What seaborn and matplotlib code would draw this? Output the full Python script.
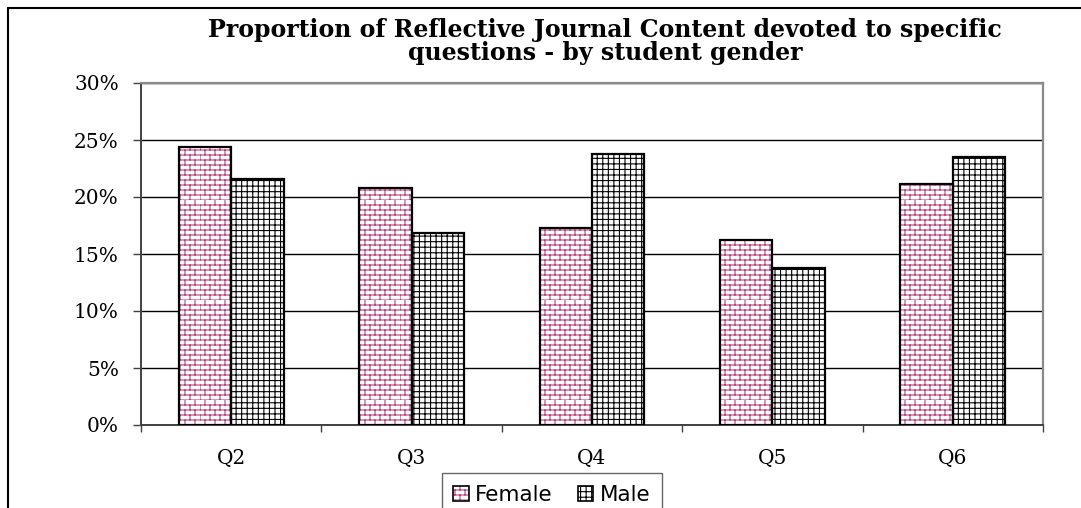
import numpy as np
import pandas as pd
import matplotlib
matplotlib.use("Agg")
import matplotlib.pyplot as plt
import matplotlib.hatch as mhatch
from matplotlib.path import Path
from matplotlib.patches import Rectangle, Patch
from matplotlib.lines import Line2D
from matplotlib.legend_handler import HandlerTuple
from matplotlib.ticker import PercentFormatter, FixedLocator
import seaborn as sns

# ---------------- data ----------------
questions = ["Q2", "Q3", "Q4", "Q5", "Q6"]
female = [0.244, 0.208, 0.173, 0.162, 0.211]
male = [0.216, 0.168, 0.238, 0.138, 0.235]
genders = ["Female", "Male"]
yticks = [0.0, 0.05, 0.10, 0.15, 0.20, 0.25, 0.30]
title = "Proportion of Reflective Journal Content devoted to specific\nquestions - by student gender"

# ---------------- brick hatch (replaces '*') ----------------
class BrickHatch(mhatch.HatchPatternBase):
    def __init__(self, hatch, density):
        self.rows = int(hatch.count('*') * density * 10 // 9)
        self.cols = self.rows // 2
        self.num_vertices = (self.rows + self.rows * self.cols) * 2

    def set_vertices_and_codes(self, vertices, codes):
        if self.rows == 0:
            return
        n = self.rows
        ys = np.arange(n) / n
        vertices[0:2 * n:2, 0] = 0.0
        vertices[0:2 * n:2, 1] = ys
        vertices[1:2 * n:2, 0] = 1.0
        vertices[1:2 * n:2, 1] = ys
        codes[0:2 * n:2] = Path.MOVETO
        codes[1:2 * n:2] = Path.LINETO
        idx = 2 * n
        for k in range(n):
            off = 0.5 * (k % 2)
            for j in range(self.cols):
                x = ((j + off) / self.cols) % 1.0
                vertices[idx] = (x, k / n)
                vertices[idx + 1] = (x, (k + 1) / n)
                codes[idx] = Path.MOVETO
                codes[idx + 1] = Path.LINETO
                idx += 2

mhatch._hatch_types = [t for t in mhatch._hatch_types
                       if t is not mhatch.Stars] + [BrickHatch]

# ---------------- style ----------------
sns.set_theme(style="white")
plt.rcParams["font.family"] = ["DejaVu Serif"]
plt.rcParams["hatch.linewidth"] = 0.8
plt.rcParams["text.color"] = "black"
plt.rcParams["xtick.color"] = "black"
plt.rcParams["ytick.color"] = "black"

pink = "#B8407A"
hatches = {"Female": "***", "Male": "+++"}
hatch_colors = {"Female": pink, "Male": "black"}

df = pd.DataFrame({
    "question": questions * 2,
    "gender": ["Female"] * len(questions) + ["Male"] * len(questions),
    "value": female + male,
})

W, H = 1081, 508
fig = plt.figure(figsize=(W / 100, H / 100), dpi=100)
ax = fig.add_axes([141 / W, 1 - 425 / H, 902 / W, 342 / H])

sns.barplot(data=df, x="question", y="value", hue="gender", hue_order=genders,
            palette=["white", "white"], width=0.58, linewidth=0,
            legend=False, ax=ax, zorder=2)

for g, cont in zip(genders, ax.containers):
    for bar in cont:
        bar.set_hatch(hatches[g])
        bar.set_edgecolor(hatch_colors[g])
        bar.set_linewidth(0)
        bar.set_facecolor("white")
        ax.add_patch(Rectangle(bar.get_xy(), bar.get_width(), bar.get_height(),
                               fill=False, edgecolor="black", lw=1.6, zorder=3))

ax.set_xlim(-0.5, len(questions) - 0.5)
ax.set_ylim(0, 0.30)
ax.yaxis.set_major_locator(FixedLocator(yticks))
ax.yaxis.set_major_formatter(PercentFormatter(1.0, decimals=0))
ax.set_xlabel("")
ax.set_ylabel("")

ax.yaxis.grid(True, color="black", lw=1.0)
ax.xaxis.grid(False)
ax.set_axisbelow(True)

for side in ["top", "right"]:
    ax.spines[side].set_color("#8a8a8a")
    ax.spines[side].set_linewidth(1.6)
ax.spines["left"].set_color("#404040")
ax.spines["left"].set_linewidth(1.4)
ax.spines["bottom"].set_color("#404040")
ax.spines["bottom"].set_linewidth(1.4)

ax.tick_params(axis="y", which="major", direction="out", length=6, width=1,
               color="#404040", left=True, pad=10, labelsize=14.5, labelcolor="black")
ax.set_xticks(np.arange(-0.5, len(questions), 1.0), minor=True)
ax.tick_params(axis="x", which="minor", direction="out", length=5, width=1,
               color="#404040", bottom=True)
ax.tick_params(axis="x", which="major", length=0, pad=17, labelsize=14.5,
               labelcolor="black")

fig.text(605 / W, 1 - 18 / H, title, ha="center", va="top", fontsize=17,
         fontweight="bold", linespacing=0.95, family="DejaVu Serif", color="black")

# legend
handles = []
for g in genders:
    handles.append((Patch(facecolor="white", edgecolor=hatch_colors[g], hatch=hatches[g], lw=0),
                    Patch(fill=False, edgecolor="black", lw=1.2)))
fig.legend(handles, genders, handler_map={tuple: HandlerTuple(ndivide=1)},
           loc="upper center", bbox_to_anchor=(552 / W, 1 - 473 / H),
           ncol=2, frameon=True, fancybox=False, edgecolor="#404040",
           prop={"family": "DejaVu Sans", "size": 15.5}, handlelength=0.7,
           handleheight=0.7, handletextpad=0.3, columnspacing=1.2,
           borderpad=0.55, borderaxespad=0, labelcolor="black")

# outer frame (left and top edges)
fig.add_artist(Line2D([8 / W, 8 / W], [0, 1 - 8 / H], transform=fig.transFigure,
                      color="black", lw=1.5))
fig.add_artist(Line2D([8 / W, 1], [1 - 8 / H, 1 - 8 / H], transform=fig.transFigure,
                      color="black", lw=1.5))

fig.savefig("out.png", dpi=100)
